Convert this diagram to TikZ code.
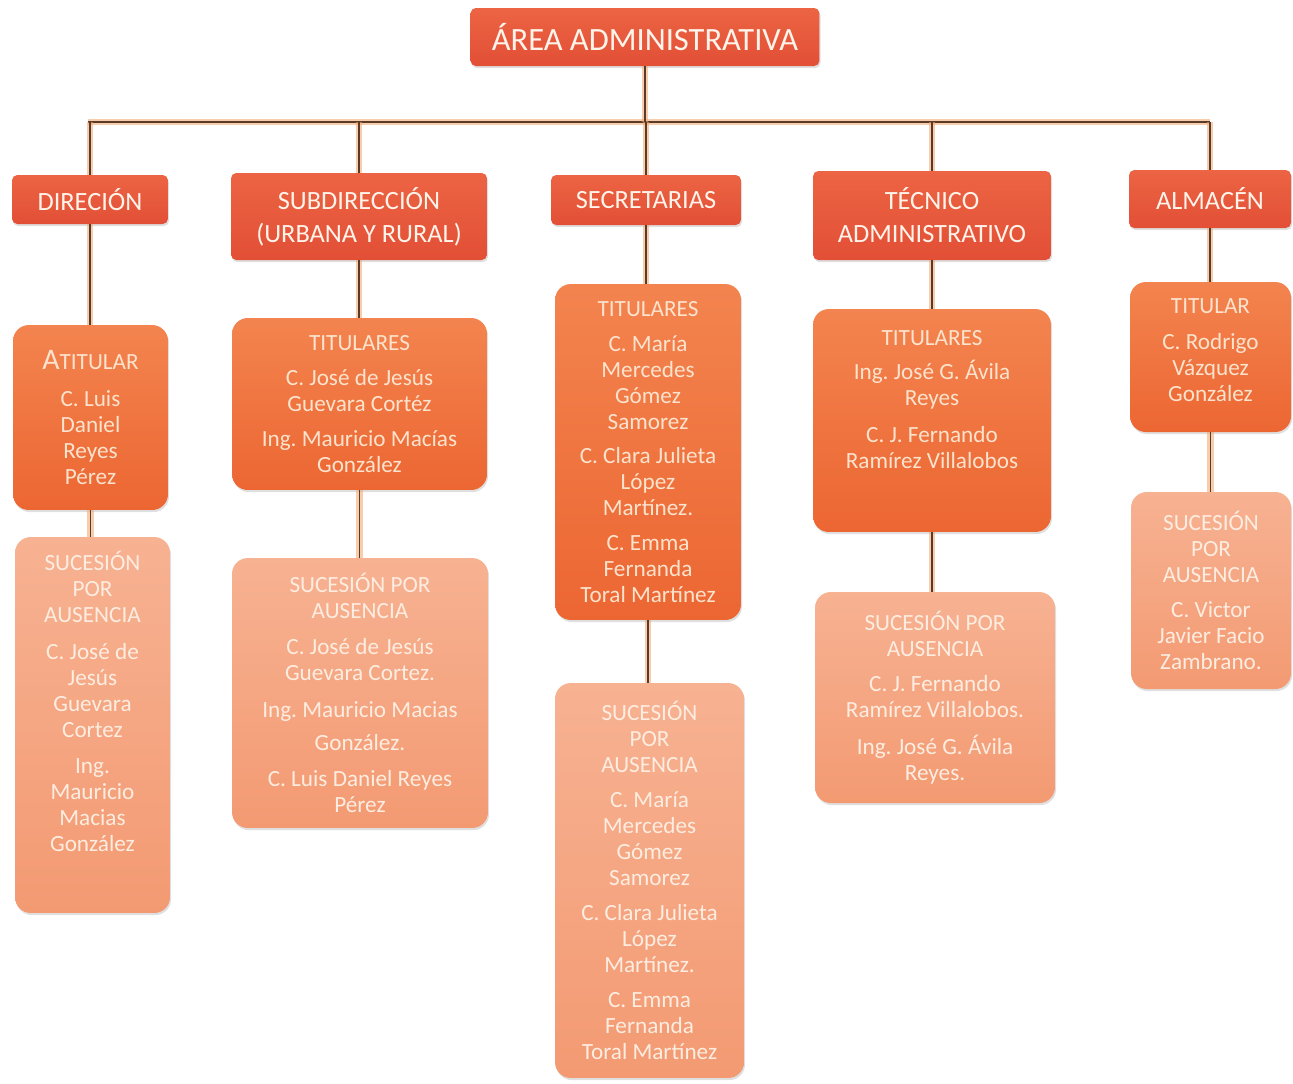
\documentclass[tikz,border=0pt]{standalone}
\usepackage{fontspec}
\setmainfont{Carlito}
\frenchspacing
\usetikzlibrary{
	positioning		% relative placement
	, shadows		% soft drop shadows under the boxes
	, calc
}

\definecolor{headTop}{HTML}{EC6443}
\definecolor{headBottom}{HTML}{E24F36}
\definecolor{titTop}{HTML}{F3844F}
\definecolor{titBottom}{HTML}{EC6632}
\definecolor{sucTop}{HTML}{F7B292}
\definecolor{sucBottom}{HTML}{F39A72}
\definecolor{headText}{HTML}{FFF3EA}
\definecolor{titText}{HTML}{FCE3CD}
\definecolor{sucText}{HTML}{FDEDE1}
\definecolor{linkDark}{HTML}{5A3A28}
\definecolor{linkGlow}{HTML}{F3A468}

\begin{document}
\begin{tikzpicture}[
				x=0.02cm, y=-0.02cm,
				box/.style={
					rectangle,
					align=center,
					inner sep=2pt,
					drop shadow={shadow xshift=0.6pt, shadow yshift=-1.2pt, opacity=0.25}
				},
				header/.style={
					box,
					rounded corners=3pt,
					top color=headTop, bottom color=headBottom,
					text=headText,
					font=\fontsize{15}{18.7}\selectfont
				},
				titular/.style={
					box,
					rounded corners=9pt,
					top color=titTop, bottom color=titBottom,
					text=titText,
					font=\fontsize{13.2}{14.8}\selectfont
				},
				sucesion/.style={
					box,
					rounded corners=9pt,
					top color=sucTop, bottom color=sucBottom,
					text=sucText,
					font=\fontsize{13.2}{14.8}\selectfont
				},
				link/.style={
					draw=linkDark,
					line width=0.6pt,
					preaction={draw=linkGlow, line width=3.5pt, opacity=0.55}
				}]

			\useasboundingbox (0,0) rectangle (1293,1083);

			%%% Head of the area
			\node [header, font=\fontsize{18.5}{21}\selectfont, minimum width=6.98cm, minimum height=1.16cm] (area) at (645,37) {ÁREA ADMINISTRATIVA};

			%%% Departments
			\node [header, minimum width=3.12cm, minimum height=0.98cm] (hDir) at (90,199.5) {DIRECIÓN};
			\node [header, minimum width=5.12cm, minimum height=1.74cm] (hSub) at (359,216.5) {SUBDIRECCIÓN\\(URBANA Y RURAL)};
			\node [header, minimum width=3.8cm, minimum height=1.0cm] (hSec) at (646,200) {SECRETARIAS};
			\node [header, minimum width=4.76cm, minimum height=1.78cm] (hTec) at (932,215.5) {TÉCNICO\\ADMINISTRATIVO};
			\node [header, minimum width=3.24cm, minimum height=1.16cm] (hAlm) at (1210,199) {ALMACÉN};

			%%% Holders
			\node [titular, minimum width=3.1cm, minimum height=3.7cm] (tDir) at (90.5,417.5)
				{{\fontsize{17}{17}\selectfont A}TITULAR\\[6pt]C. Luis\\Daniel\\Reyes\\Pérez};
			\node [titular, minimum width=5.1cm, minimum height=3.44cm] (tSub) at (359.5,404)
				{TITULARES\\[5pt]C. José de Jesús\\Guevara Cortéz\\[5pt]Ing. Mauricio Macías\\González};
			\node [titular, minimum width=3.72cm, minimum height=6.72cm] (tSec) at (648,452)
				{TITULARES\\[5pt]C. María\\Mercedes\\Gómez\\Samorez\\[5pt]C. Clara Julieta\\López\\Martínez.\\[5pt]C. Emma\\Fernanda\\Toral Martínez};
			\node [titular, minimum width=4.76cm, minimum height=4.46cm] (tTec) at (932,420.5)
				{TITULARES\\[5pt]Ing. José G. Ávila\\Reyes\\[6pt]C. J. Fernando\\Ramírez Villalobos\\[9.5pt]\mbox{}};
			\node [titular, minimum width=3.22cm, minimum height=3.0cm] (tAlm) at (1210.5,357)
				{TITULAR\\[6pt]C. Rodrigo\\Vázquez\\González\\[-7pt]\mbox{}};

			%%% Substitutes
			\node [sucesion, minimum width=3.1cm, minimum height=7.52cm] (sDir) at (92.5,725)
				{SUCESIÓN\\POR\\AUSENCIA\\[6pt]C. José de\\Jesús\\Guevara\\Cortez\\[6pt]Ing.\\Mauricio\\Macias\\González\\[12pt]\mbox{}};
			\node [sucesion, minimum width=5.12cm, minimum height=5.4cm] (sSub) at (360,693)
				{SUCESIÓN POR\\AUSENCIA\\[6pt]C. José de Jesús\\Guevara Cortez.\\[6pt]Ing. Mauricio Macias\\[4pt]González.\\[6pt]C. Luis Daniel Reyes\\Pérez};
			\node [sucesion, minimum width=3.78cm, minimum height=7.9cm] (sSec) at (649.5,880.5)
				{SUCESIÓN\\POR\\AUSENCIA\\[5pt]C. María\\Mercedes\\Gómez\\Samorez\\[5pt]C. Clara Julieta\\López\\Martínez.\\[5pt]C. Emma\\Fernanda\\Toral Martínez};
			\node [sucesion, minimum width=4.8cm, minimum height=4.22cm] (sTec) at (935,697.5)
				{SUCESIÓN POR\\AUSENCIA\\[5pt]C. J. Fernando\\Ramírez Villalobos.\\[6pt]Ing. José G. Ávila\\Reyes.};
			\node [sucesion, minimum width=3.2cm, minimum height=3.94cm] (sAlm) at (1211,590.5)
				{SUCESIÓN\\POR\\AUSENCIA\\[5pt]C. Victor\\Javier Facio\\Zambrano.};

			%%% Connectors
			\coordinate (barL) at (88,122);
			\coordinate (barR) at (1210,122);
			\path [link] (barL) -- (barR);
			\path [link] (area.south) -- (area.south |- barL);
			\foreach \k in {Dir, Sub, Sec, Tec, Alm} {
				\path [link] (h\k.north |- barL) -- (h\k.north);
				\path [link] (h\k.south) -- (h\k.south |- t\k.north);
				\path [link] (t\k.south) -- (t\k.south |- s\k.north);
			};

		\end{tikzpicture}
\end{document}
